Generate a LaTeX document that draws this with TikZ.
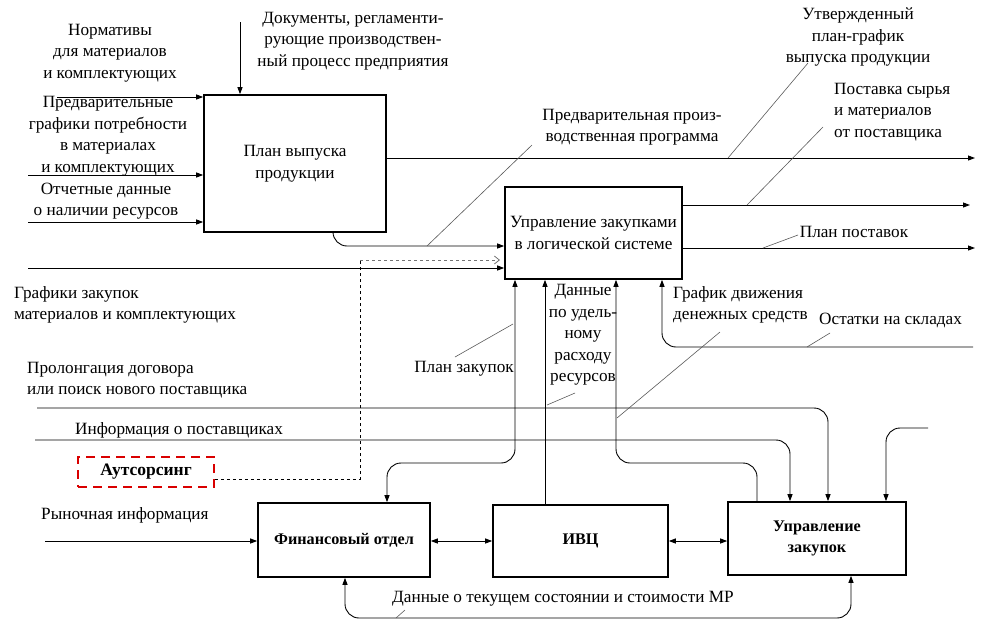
\documentclass[tikz,border=0pt]{standalone}
\usepackage{fontspec}
\setmainfont{Liberation Serif}
\usetikzlibrary{
  arrows.meta,
  calc,
  positioning,
}

\begin{document}
\begin{tikzpicture}[x=1pt,y=-1pt,
  font=\rmfamily\fontsize{17.2}{21.5}\selectfont,
  >={Triangle[length=7pt,width=5pt]},
  box/.style={draw,line width=1.6pt,inner sep=0pt,align=center},
  dept/.style={box,font=\rmfamily\fontsize{16.2}{21}\selectfont\bfseries},
  lbl/.style={inner sep=0pt,align=center},
  lead/.style={black!65,line width=.6pt},
  flow/.style={line width=.9pt,rounded corners=14pt},
  outs/.style={draw=red!85!black,dash pattern=on 9pt off 6pt,line width=1.8pt,
    inner sep=0pt,font=\rmfamily\fontsize{17.5}{21}\selectfont\bfseries}]
  \useasboundingbox (0,0) rectangle (989,625);
  %% blocks
  \node[box,minimum width=182pt,minimum height=137pt](Plan) at (295,163.5)
      {План выпуска\\продукции};
  \node[box,minimum width=177pt,minimum height=92pt](Zak) at (593.5,233)
      {Управление закупками\\в логической системе};
  \node[dept,minimum width=172pt,minimum height=74pt](Fin) at (344,540)
      {Финансовый отдел};
  \node[dept,minimum width=175pt,minimum height=72pt](IVC) at (580.5,541)
      {ИВЦ};
  \node[dept,minimum width=178pt,minimum height=73pt](UZk) at (817,538.5)
      {Управление\\закупок};
  \node[outs,minimum width=136pt,minimum height=30pt](Outs) at (146,472)
      {Аутсорсинг};
  %%
  \coordinate(NormIn) at (57,97);
  \coordinate(GrafIn) at (28,175);
  \coordinate(OtchIn) at (28,222);
  \coordinate(DocIn) at (240,22);
  \coordinate(PlanOut) at (975,158);
  \coordinate(GrafZak) at (28,268);
  \coordinate(PostOut) at (970,205);
  \coordinate(PlanPostOut) at (975,248);
  \coordinate(OutsIn) at (500,260);
  \coordinate(OutsTurn) at (360,260);
  \coordinate(OstIn) at (973,347);
  \coordinate(ProlIn) at (37,408);
  \coordinate(InfIn) at (35,440);
  \coordinate(RightIn) at (928,428);
  \coordinate(RynIn) at (45,541);
  %% plan inputs and outputs
  \draw[flow,->] (NormIn) -- (NormIn-|Plan.west);
  \draw[flow,->] (GrafIn) -- (GrafIn-|Plan.west);
  \draw[flow,->] (OtchIn) -- (OtchIn-|Plan.west);
  \draw[flow,->] (DocIn) -- (DocIn|-Plan.north);
  \draw[flow,->] (Plan.east|-PlanOut) -- (PlanOut);
  \draw[flow,->] (Plan.south-|333,0) -- (333,246) -- (Zak.west|-0,246);
  \draw[flow,->] (GrafZak) -- (GrafZak-|Zak.west);
  %% outsourcing
  \draw[black!55,dashed,line width=.8pt,-{Straight Barb[length=5pt,width=8pt]}]
    (OutsTurn) -- (OutsIn);
  \draw[dashed,line width=.7pt]
    (Outs.east|-0,479) -- (OutsTurn|-0,479) -- (OutsTurn);
  %% purchasing outputs
  \draw[flow,->] (Zak.east|-PostOut) -- (PostOut);
  \draw[flow,->] (Zak.east|-PlanPostOut) -- (PlanPostOut);
  %% under purchasing
  \draw[flow,<->] (Zak.south-|515,0) -- (515,463) -- (387,463) -- (Fin.north-|387,0);
  \draw[flow,->] (IVC.north-|545,0) -- (Zak.south-|545,0);
  \draw[flow,->] (UZk.north-|757,0) -- (757,463) -- (616,463) -- (Zak.south-|616,0);
  \draw[flow,->] (OstIn) -- (662,347) -- (Zak.south-|662,0);
  %% into purchase dept
  \draw[flow,->] (ProlIn) -- (828,408) -- (UZk.north-|828,0);
  \draw[flow,->] (InfIn) -- (790,440) -- (UZk.north-|790,0);
  \draw[flow,->] (RightIn) -- (886,428) -- (UZk.north-|886,0);
  %% bottom row
  \draw[flow,->] (RynIn) -- (RynIn-|Fin.west);
  \draw[flow,<->] (Fin.east|-0,541) -- (IVC.west|-0,541);
  \draw[flow,<->] (IVC.east|-0,541) -- (UZk.west|-0,541);
  \draw[flow,<->] (Fin.south-|345,0) -- (345,618) -- (851,618) -- (UZk.south-|851,0);
  %% labels
  \node[lbl](NormLbl) at (110,53){Нормативы\\для материалов\\и комплектующих};
  \node[lbl](GrafLbl) at (108,136)
      {Предварительные\\графики потребности\\в материалах\\и комплектующих};
  \node[lbl](OtchLbl) at (106,201){Отчетные данные\\о наличии ресурсов};
  \node[lbl](DocLbl) at (353,41)
      {Документы, регламенти-\\рующие производствен-\\ный процесс предприятия};
  \node[lbl](UtvLbl) at (858,37){Утвержденный\\план-график\\выпуска продукции};
  \node[lbl,anchor=west,align=left](PostLbl) at (834,112)
      {Поставка сырья\\и материалов\\от поставщика};
  \node[lbl](PredLbl) at (632,127){Предварительная произ-\\водственная программа};
  \node[lbl](PlanPostLbl) at (854,232){План поставок};
  \node[lbl,anchor=west,align=left](GrafZakLbl) at (14,305)
      {Графики закупок\\материалов и комплектующих};
  \node[lbl,anchor=west,align=left](ProlLbl) at (27,380)
      {Пролонгация договора\\или поиск нового поставщика};
  \node[lbl,anchor=west](InfLbl) at (75,430){Информация о поставщиках};
  \node[lbl](PlanZakLbl) at (464,369){План закупок};
  \node[lbl](UdelLbl) at (583,335){Данные\\по удель-\\ному\\расходу\\ресурсов};
  \node[lbl,anchor=west,align=left](DenLbl) at (673,305)
      {График движения\\денежных средств};
  \node[lbl,anchor=west](OstLbl) at (819,320){Остатки на складах};
  \node[lbl,anchor=west](RynLbl) at (41,515){Рыночная информация};
  \node[lbl,anchor=west](MRLbl) at (392,599)
      {Данные о текущем состоянии и стоимости МР};
  %% leaders
  \coordinate(UtvA) at (808,63);    \coordinate(UtvB) at (728,158);
  \coordinate(PostA) at (823,127);  \coordinate(PostB) at (747,205);
  \coordinate(PPA) at (798,235);    \coordinate(PPB) at (763,248);
  \coordinate(PredA) at (532,145);  \coordinate(PredB) at (427,246);
  \coordinate(PZA) at (455,357);    \coordinate(PZB) at (513,324);
  \coordinate(UdA) at (575,393);    \coordinate(UdB) at (547,405);
  \coordinate(DenA) at (720,332);   \coordinate(DenB) at (617,418);
  \coordinate(OstA) at (830,333);   \coordinate(OstB) at (807,347);
  \coordinate(MRA) at (405,610);    \coordinate(MRB) at (396,618);
  \draw[lead] (UtvA) -- (UtvB);
  \draw[lead] (PostA) -- (PostB);
  \draw[lead] (PPA) -- (PPB);
  \draw[lead] (PredA) -- (PredB);
  \draw[lead] (PZA) -- (PZB);
  \draw[lead] (UdA) -- (UdB);
  \draw[lead] (DenA) -- (DenB);
  \draw[lead] (OstA) -- (OstB);
  \draw[lead] (MRA) -- (MRB);
\end{tikzpicture}
\end{document}
